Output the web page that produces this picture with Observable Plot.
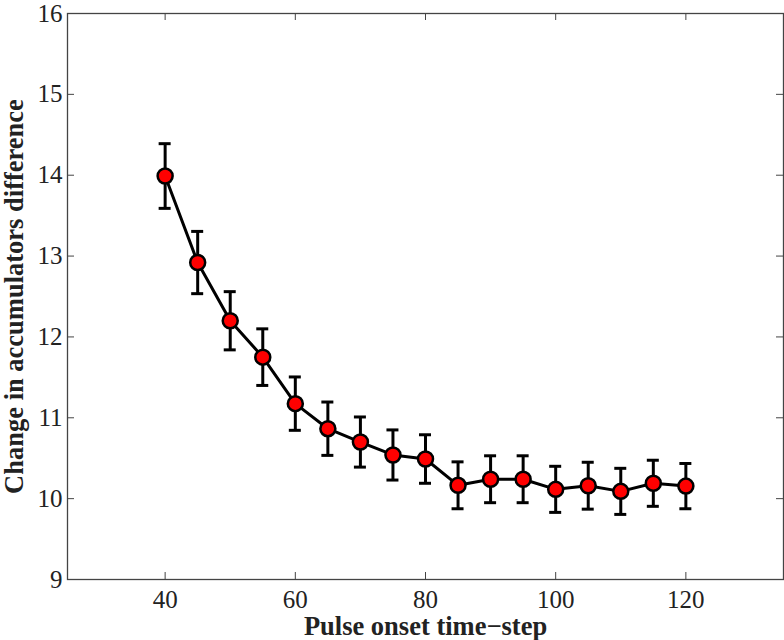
<!DOCTYPE html>
<html><head><meta charset="utf-8">
<script src="https://cdn.jsdelivr.net/npm/d3@7"></script>
<script src="https://cdn.jsdelivr.net/npm/@observablehq/plot@0.6"></script>
<style>html,body{margin:0;padding:0;background:#fff}</style>
</head><body><div id="chart"></div>
<script>
const onset  = [40, 45, 50, 55, 60, 65, 70, 75, 80, 85, 90, 95, 100, 105, 110, 115, 120];
const change = [13.99, 12.92, 12.20, 11.75, 11.175, 10.865, 10.70, 10.54, 10.49, 10.165, 10.24, 10.24, 10.115, 10.16, 10.09, 10.19, 10.155];
const errBar = [0.40, 0.385, 0.36, 0.35, 0.33, 0.33, 0.31, 0.31, 0.30, 0.29, 0.29, 0.29, 0.285, 0.29, 0.285, 0.285, 0.28];
const xTicks = [40, 60, 80, 100, 120];
const yTicks = [9, 10, 11, 12, 13, 14, 15, 16];
const xLabel = "Pulse onset time−step";
const yLabel = "Change in accumulators difference";

const data = onset.map((x, i) => ({x, y: change[i], lo: change[i] - errBar[i], hi: change[i] + errBar[i]}));

const W = 784, H = 640, mt = 13, mb = 61, ml = 67, mr = 1;
const ph = H - mt - mb, pw = W - ml - mr, tk = 7;
const axisColor = "#444";
const serif = "Liberation Serif";

const chart = Plot.plot({
  width: W, height: H,
  marginTop: mt, marginBottom: mb, marginLeft: ml, marginRight: mr,
  x: {domain: [25, 135]},
  y: {domain: [9, 16]},
  style: {fontFamily: serif, fontSize: "24px", color: "#000", background: "#fff", overflow: "visible"},
  marks: [
    Plot.frame({stroke: axisColor, strokeWidth: 1.3}),
    Plot.axisX(xTicks, {tickSize: 0, tickPadding: 11, label: null, tickFormat: d => String(d), fontSize: 25, fontFamily: serif, fill: "#222"}),
    Plot.axisY(yTicks, {tickSize: 0, tickPadding: 5, label: null, tickFormat: d => String(d), fontSize: 25, fontFamily: serif, fill: "#222"}),
    Plot.tickX(xTicks, {x: d => d, insetTop: ph - tk, stroke: axisColor}),
    Plot.tickX(xTicks, {x: d => d, insetBottom: ph - tk, stroke: axisColor}),
    Plot.tickY(yTicks, {y: d => d, insetRight: pw - tk, stroke: axisColor}),
    Plot.tickY(yTicks, {y: d => d, insetLeft: pw - tk, stroke: axisColor}),
    Plot.ruleX(data, {x: "x", y1: "lo", y2: "hi", stroke: "#000", strokeWidth: 3}),
    Plot.ruleY(data, {y: "hi", x1: "x", x2: "x", insetLeft: -6, insetRight: -6, stroke: "#000", strokeWidth: 3}),
    Plot.ruleY(data, {y: "lo", x1: "x", x2: "x", insetLeft: -6, insetRight: -6, stroke: "#000", strokeWidth: 3}),
    Plot.line(data, {x: "x", y: "y", stroke: "#000", strokeWidth: 3}),
    Plot.dot(data, {x: "x", y: "y", r: 7.5, fill: "#ff0000", stroke: "#000", strokeWidth: 2.5}),
    Plot.text([xLabel], {frameAnchor: "bottom", dy: 47, textAnchor: "middle", lineAnchor: "middle", fontWeight: "bold", fontSize: 26.5, fontFamily: serif, fill: "#222"}),
    Plot.text([yLabel], {frameAnchor: "left", dx: -53, rotate: -90, textAnchor: "middle", lineAnchor: "middle", fontWeight: "bold", fontSize: 26.5, fontFamily: serif, fill: "#222"})
  ]
});
document.getElementById("chart").append(chart);
</script>
</body></html>
